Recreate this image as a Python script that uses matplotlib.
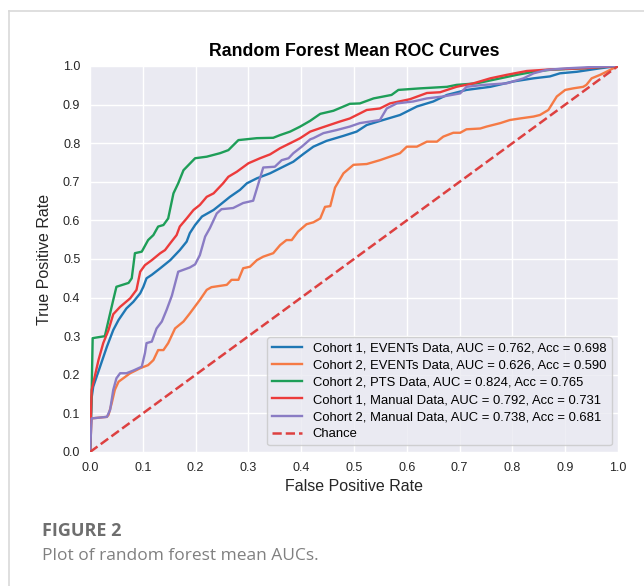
import matplotlib
matplotlib.use("Agg")
import matplotlib.pyplot as plt
from matplotlib.lines import Line2D

# ---------------------------------------------------------------------------
# Data (mean ROC curves)
# ---------------------------------------------------------------------------

c1_events_fpr = [0, 0.003, 0.006, 0.019, 0.032, 0.044, 0.054, 0.069, 0.082, 0.095, 0.101,
                 0.107, 0.117, 0.133, 0.152, 0.17, 0.183, 0.189, 0.199, 0.212, 0.234, 0.246,
                 0.265, 0.284, 0.297, 0.316, 0.341, 0.36, 0.385, 0.404, 0.423, 0.448, 0.48,
                 0.505, 0.524, 0.555, 0.587, 0.619, 0.65, 0.676, 0.713, 0.758, 0.802, 0.84,
                 0.871, 0.89, 0.922, 0.966, 1.0]
c1_events_tpr = [0, 0.14, 0.169, 0.221, 0.273, 0.316, 0.342, 0.372, 0.389, 0.411, 0.428,
                 0.45, 0.459, 0.476, 0.497, 0.523, 0.545, 0.567, 0.588, 0.61, 0.627, 0.64,
                 0.661, 0.679, 0.696, 0.709, 0.722, 0.735, 0.752, 0.772, 0.791, 0.806, 0.819,
                 0.83, 0.847, 0.86, 0.873, 0.895, 0.908, 0.925, 0.938, 0.946, 0.96, 0.968,
                 0.973, 0.981, 0.985, 0.994, 1.0]

c2_events_fpr = [0, 0.003, 0.032, 0.035, 0.041, 0.047, 0.054, 0.063, 0.076, 0.095, 0.11,
                 0.12, 0.129, 0.139, 0.148, 0.161, 0.177, 0.189, 0.208, 0.221, 0.23, 0.259,
                 0.268, 0.281, 0.29, 0.303, 0.316, 0.328, 0.347, 0.36, 0.372, 0.382, 0.394,
                 0.41, 0.423, 0.436, 0.445, 0.455, 0.464, 0.48, 0.499, 0.524, 0.549, 0.568,
                 0.587, 0.6, 0.619, 0.638, 0.657, 0.669, 0.688, 0.701, 0.713, 0.739, 0.751,
                 0.777, 0.795, 0.814, 0.84, 0.852, 0.868, 0.884, 0.9, 0.915, 0.934, 0.94,
                 0.95, 0.966, 0.978, 0.991, 1.0]
c2_events_tpr = [0, 0.087, 0.091, 0.096, 0.126, 0.161, 0.182, 0.191, 0.204, 0.217, 0.225,
                 0.238, 0.264, 0.264, 0.282, 0.32, 0.338, 0.359, 0.394, 0.42, 0.427, 0.433,
                 0.446, 0.446, 0.476, 0.48, 0.497, 0.506, 0.515, 0.536, 0.549, 0.549, 0.571,
                 0.59, 0.595, 0.605, 0.635, 0.637, 0.685, 0.722, 0.744, 0.746, 0.756, 0.765,
                 0.774, 0.791, 0.791, 0.804, 0.804, 0.817, 0.827, 0.827, 0.836, 0.838, 0.843,
                 0.852, 0.86, 0.864, 0.869, 0.873, 0.886, 0.921, 0.938, 0.942, 0.946, 0.951,
                 0.968, 0.977, 0.985, 0.994, 1.0]

c2_pts_fpr = [0, 0.003, 0.005, 0.028, 0.044, 0.05, 0.073, 0.079, 0.085, 0.098, 0.11, 0.12,
              0.129, 0.139, 0.148, 0.158, 0.167, 0.177, 0.199, 0.221, 0.246, 0.262, 0.281,
              0.316, 0.347, 0.36, 0.379, 0.398, 0.417, 0.436, 0.461, 0.48, 0.492, 0.511,
              0.537, 0.571, 0.584, 0.625, 0.676, 0.694, 0.732, 0.777, 0.808, 0.84, 0.871,
              0.934, 1.0]
c2_pts_tpr = [0, 0.15, 0.295, 0.30, 0.394, 0.428, 0.438, 0.45, 0.515, 0.519, 0.549, 0.562,
              0.584, 0.588, 0.605, 0.67, 0.696, 0.73, 0.761, 0.765, 0.774, 0.782, 0.808,
              0.813, 0.814, 0.821, 0.83, 0.843, 0.858, 0.876, 0.884, 0.895, 0.902, 0.903,
              0.916, 0.925, 0.938, 0.942, 0.946, 0.951, 0.955, 0.968, 0.977, 0.985, 0.99,
              0.994, 1.0]

c1_manual_fpr = [0, 0.003, 0.016, 0.025, 0.035, 0.044, 0.057, 0.076, 0.088, 0.095, 0.104,
                 0.117, 0.133, 0.142, 0.152, 0.164, 0.17, 0.183, 0.196, 0.208, 0.221, 0.234,
                 0.252, 0.262, 0.278, 0.3, 0.322, 0.341, 0.36, 0.385, 0.398, 0.417, 0.436,
                 0.473, 0.492, 0.511, 0.524, 0.549, 0.568, 0.606, 0.638, 0.663, 0.694, 0.726,
                 0.758, 0.789, 0.827, 0.871, 0.934, 1.0]
c1_manual_tpr = [0, 0.16, 0.238, 0.282, 0.316, 0.357, 0.376, 0.398, 0.42, 0.467, 0.484,
                 0.497, 0.515, 0.523, 0.541, 0.562, 0.584, 0.605, 0.627, 0.64, 0.661, 0.67,
                 0.696, 0.713, 0.726, 0.748, 0.761, 0.771, 0.787, 0.804, 0.813, 0.83, 0.839,
                 0.856, 0.864, 0.877, 0.886, 0.89, 0.903, 0.914, 0.93, 0.932, 0.946, 0.955,
                 0.968, 0.977, 0.987, 0.991, 0.994, 1.0]

c2_manual_fpr = [0, 0.003, 0.032, 0.038, 0.044, 0.05, 0.057, 0.069, 0.082, 0.098, 0.104,
                 0.107, 0.117, 0.126, 0.136, 0.145, 0.155, 0.167, 0.189, 0.199, 0.208, 0.218,
                 0.227, 0.24, 0.249, 0.271, 0.29, 0.309, 0.319, 0.328, 0.35, 0.363, 0.376,
                 0.385, 0.401, 0.417, 0.423, 0.442, 0.467, 0.492, 0.511, 0.549, 0.562, 0.581,
                 0.612, 0.638, 0.669, 0.701, 0.713, 0.745, 0.789, 0.821, 0.84, 0.865, 0.903,
                 0.947, 1.0]
c2_manual_tpr = [0, 0.087, 0.091, 0.109, 0.161, 0.191, 0.204, 0.204, 0.211, 0.221, 0.256,
                 0.282, 0.286, 0.32, 0.338, 0.368, 0.405, 0.467, 0.478, 0.486, 0.51, 0.558,
                 0.58, 0.618, 0.629, 0.632, 0.645, 0.651, 0.696, 0.737, 0.739, 0.756, 0.761,
                 0.774, 0.791, 0.81, 0.813, 0.826, 0.834, 0.843, 0.852, 0.86, 0.89, 0.903,
                 0.908, 0.916, 0.921, 0.929, 0.946, 0.951, 0.955, 0.968, 0.981, 0.99, 0.994,
                 0.997, 1.0]

labels = [
    "Cohort 1, EVENTs Data, AUC = 0.762, Acc = 0.698",
    "Cohort 2, EVENTs Data, AUC = 0.626, Acc = 0.590",
    "Cohort 2, PTS Data, AUC = 0.824, Acc = 0.765",
    "Cohort 1, Manual Data, AUC = 0.792, Acc = 0.731",
    "Cohort 2, Manual Data, AUC = 0.738, Acc = 0.681",
]
ticks = [0.0, 0.1, 0.2, 0.3, 0.4, 0.5, 0.6, 0.7, 0.8, 0.9, 1.0]

# ---------------------------------------------------------------------------
# Style (seaborn-darkgrid look)
# ---------------------------------------------------------------------------

plt.rcParams.update({
    "font.family": ["Liberation Sans", "DejaVu Sans"],
    "axes.facecolor": "#EAEAF2",
    "axes.edgecolor": "white",
    "grid.color": "white",
    "grid.linewidth": 1.0,
    "xtick.color": "#262626",
    "ytick.color": "#262626",
    "axes.labelcolor": "#262626",
})

COLOURS = ["#1f77b4", "#f57a45", "#1e9e58", "#ec3b3b", "#8a7cc4"]

fig = plt.figure(figsize=(6.44, 5.86), dpi=100)
ax = fig.add_axes([0.1398, 0.2287, 0.8199, 0.6587])

curves = [
    (c1_events_fpr, c1_events_tpr),
    (c2_events_fpr, c2_events_tpr),
    (c2_pts_fpr, c2_pts_tpr),
    (c1_manual_fpr, c1_manual_tpr),
    (c2_manual_fpr, c2_manual_tpr),
]
for (fpr, tpr), col, lab in zip(curves, COLOURS, labels):
    ax.plot(fpr, tpr, color=col, linewidth=1.7, label=lab)
ax.plot([0, 1], [0, 1], linestyle="--", linewidth=1.8, color="#dd4040", label="Chance")

ax.set_xlim(0, 1.0)
ax.set_ylim(0, 1.0)
ax.set_xticks(ticks)
ax.set_yticks(ticks)
ax.tick_params(length=0, labelsize=9, pad=7)
ax.grid(True)
ax.set_axisbelow(True)
for s in ax.spines.values():
    s.set_visible(False)

ax.set_xlabel("False Positive Rate", fontsize=11.5, labelpad=4)
ax.set_ylabel("True Positive Rate", fontsize=11.5, labelpad=8)
ax.set_title("Random Forest Mean ROC Curves", fontsize=12.8, fontweight="bold", pad=7)

leg = ax.legend(loc="lower right", fontsize=9.4, handlelength=2.3, labelspacing=0.38,
                framealpha=0.8, facecolor="#EAEAF2", edgecolor="#c8c8c8",
                borderaxespad=0.5)

# card border and caption
fig.add_artist(Line2D([9 / 644, 9 / 644], [0, 1 - 11 / 586], color="#d9d9d9", linewidth=1.2))
fig.add_artist(Line2D([9 / 644, 1], [1 - 11 / 586, 1 - 11 / 586], color="#d9d9d9", linewidth=1.2))
fig.text(42 / 644, 1 - 536 / 586, "FIGURE 2", family=["Open Sans", "DejaVu Sans"],
         fontsize=13, fontweight="bold", color="#6e6e6e", va="baseline")
fig.text(42 / 644, 1 - 560 / 586, "Plot of random forest mean AUCs.",
         family=["Open Sans", "DejaVu Sans"], fontsize=12.5, color="#808080", va="baseline")

fig.savefig("out.png", dpi=100)
